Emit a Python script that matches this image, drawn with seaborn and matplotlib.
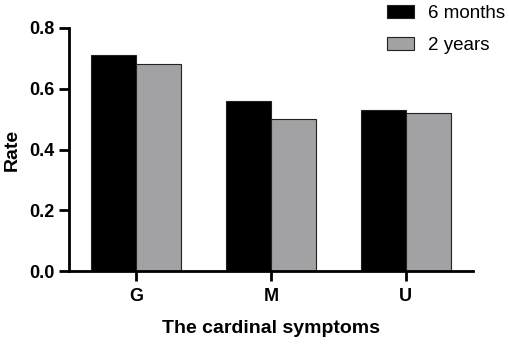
import pandas as pd
import matplotlib
matplotlib.use("Agg")
import matplotlib.pyplot as plt
import seaborn as sns

# 数据
symptoms = ["G", "M", "U"]
rate_6m = [0.71, 0.56, 0.53]
rate_2y = [0.68, 0.50, 0.52]
series = ["6 months", "2 years"]

df = pd.DataFrame({
    "symptom": symptoms * 2,
    "rate": rate_6m + rate_2y,
    "period": [series[0]] * 3 + [series[1]] * 3,
})

sns.set_style("ticks")
plt.rcParams["font.family"] = ["Liberation Sans", "DejaVu Sans"]
plt.rcParams["text.color"] = "black"
plt.rcParams["axes.labelcolor"] = "black"
plt.rcParams["xtick.color"] = "black"
plt.rcParams["ytick.color"] = "black"

fig = plt.figure(figsize=(5.1, 3.48), dpi=100)
ax = fig.add_axes([69 / 510, 1 - 271 / 348, (473 - 69) / 510, (271 - 28) / 348])

sns.barplot(data=df, x="symptom", y="rate", hue="period", hue_order=series,
            palette=["black", "#a2a1a6"], width=0.667, edgecolor="#222222",
            linewidth=0.8, ax=ax, legend=True)

ax.set_xlim(-0.5, 2.5)
ax.set_ylim(0, 0.8)
ax.set_yticks([0.0, 0.2, 0.4, 0.6, 0.8])
ax.set_yticklabels(["0.0", "0.2", "0.4", "0.6", "0.8"])
ax.set_xlabel("The cardinal symptoms", fontsize=14, fontweight="bold", labelpad=11)
ax.set_ylabel("Rate", fontsize=14, fontweight="bold", labelpad=6)
for lab in ax.get_xticklabels() + ax.get_yticklabels():
    lab.set_fontweight("bold")
    lab.set_fontsize(13)
ax.tick_params(axis="both", width=2, length=7, color="black")
ax.tick_params(axis="x", pad=5)
for s in ["left", "bottom"]:
    ax.spines[s].set_linewidth(2)
    ax.spines[s].set_color("black")
sns.despine(ax=ax)

handles, labels = ax.get_legend_handles_labels()
ax.get_legend().remove()
fig.legend(handles, labels, loc="upper left", bbox_to_anchor=(370 / 510, 1.035),
           frameon=False, fontsize=13.5, handlelength=1.45, handleheight=0.7,
           labelspacing=0.8, handletextpad=0.75)

fig.savefig("out.png", dpi=100)
